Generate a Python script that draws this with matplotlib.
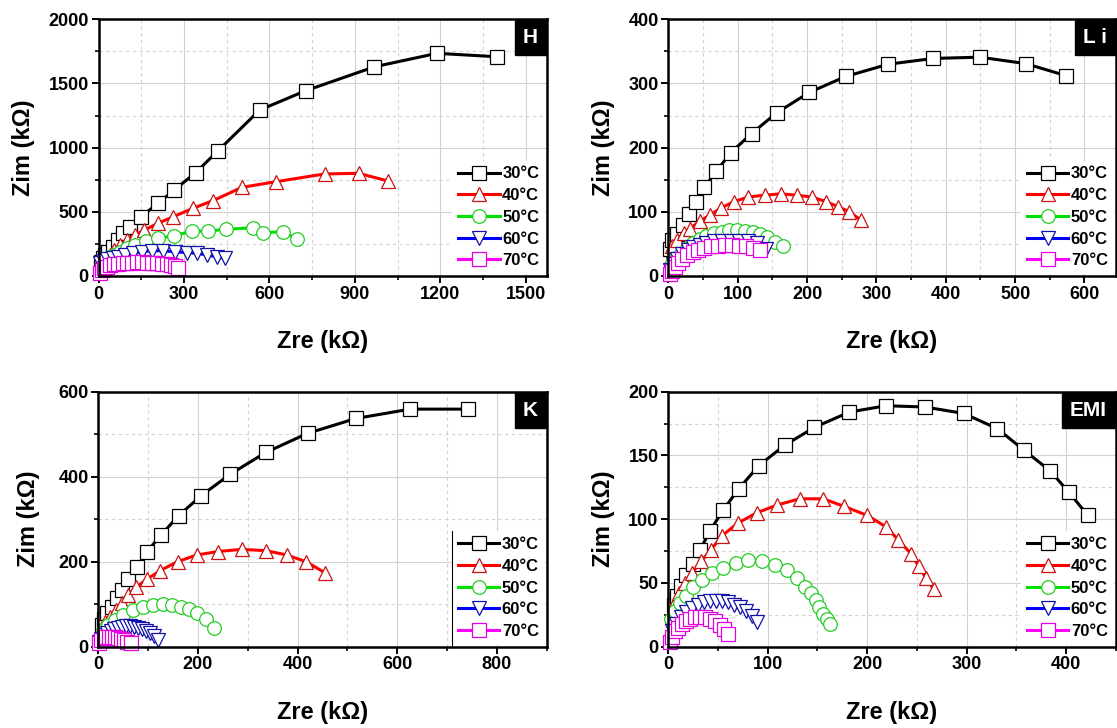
import matplotlib
matplotlib.use("Agg")
import matplotlib.pyplot as plt
from matplotlib.ticker import MultipleLocator

plt.rcParams['font.family'] = ['Liberation Sans', 'DejaVu Sans']
plt.rcParams['font.weight'] = 'bold'

# ---------------------------------------------------------------- data
temps = ['30°C', '40°C', '50°C', '60°C', '70°C']

# H
H_30_re = [8, 15, 23, 35, 52, 70, 87, 111, 149, 209, 266, 341, 419, 566, 727, 969, 1189, 1400]
H_30_im = [110, 138, 164, 189, 228, 280, 333, 384, 462, 566, 670, 805, 974, 1293, 1443, 1630, 1735, 1708]
H_40_re = [8, 15, 25, 40, 55, 75, 100, 128, 161, 208, 263, 331, 402, 504, 624, 794, 914, 1017]
H_40_im = [95, 110, 135, 165, 200, 240, 280, 319, 358, 410, 462, 527, 587, 691, 735, 795, 800, 740]
H_50_re = [12, 25, 38, 55, 75, 99, 128, 167, 210, 266, 328, 386, 448, 541, 578, 648, 697]
H_50_im = [105, 125, 145, 165, 190, 216, 241, 275, 293, 314, 350, 350, 364, 376, 337, 345, 288]
H_60_re = [5, 15, 30, 50, 70, 94, 121, 152, 187, 225, 269, 310, 345, 380, 415, 445]
H_60_im = [105, 120, 130, 140, 150, 164, 177, 189, 197, 197, 189, 182, 177, 164, 150, 138]
H_70_re = [5, 12, 20, 30, 42, 55, 70, 85, 100, 118, 135, 152, 170, 188, 205, 222, 240, 255, 268, 278]
H_70_im = [25, 45, 60, 72, 82, 90, 96, 100, 103, 105, 106, 106, 105, 103, 100, 97, 93, 86, 76, 62]

# Li
Li_30_re = [2, 6, 12, 21, 30, 40, 52, 69, 90, 120, 156, 203, 256, 317, 382, 449, 515, 574]
Li_30_im = [42, 56, 66, 80, 96, 116, 138, 163, 192, 222, 254, 286, 311, 330, 339, 341, 331, 312]
Li_40_re = [5, 12, 22, 31, 45, 60, 76, 95, 115, 139, 162, 185, 207, 227, 245, 261, 278]
Li_40_im = [46, 56, 67, 74, 85, 95, 106, 116, 123, 126, 128, 126, 123, 116, 108, 100, 87]
Li_50_re = [6, 11, 18, 27, 35, 45, 55, 66, 77, 88, 99, 111, 122, 132, 143, 154, 165]
Li_50_im = [20, 28, 35, 43, 51, 58, 63, 67, 69, 71, 71, 70, 68, 65, 60, 53, 46]
Li_60_re = [3, 7, 13, 20, 28, 36, 45, 55, 66, 78, 90, 102, 115, 128, 141]
Li_60_im = [10, 18, 27, 34, 40, 45, 49, 52, 54, 55, 55, 55, 54, 52, 42]
Li_70_re = [2, 5, 9, 14, 20, 27, 35, 43, 52, 62, 72, 82, 92, 102, 112, 122, 132]
Li_70_im = [3, 8, 14, 20, 26, 32, 37, 41, 44, 46, 47, 48, 48, 47, 46, 44, 40]

# K
K_30_re = [7, 11, 18, 27, 37, 47, 60, 77, 98, 126, 161, 206, 265, 336, 420, 517, 626, 743]
K_30_im = [51, 65, 79, 94, 114, 133, 159, 187, 224, 263, 308, 355, 406, 457, 502, 537, 559, 559]
K_40_re = [7, 14, 24, 36, 47, 60, 76, 98, 124, 159, 198, 241, 288, 336, 378, 417, 455]
K_40_im = [43, 57, 71, 86, 102, 122, 140, 159, 179, 200, 216, 224, 229, 226, 216, 200, 174]
K_50_re = [10, 20, 34, 50, 69, 89, 109, 129, 147, 166, 183, 199, 216, 232]
K_50_im = [39, 51, 63, 75, 86, 94, 98, 100, 98, 94, 88, 79, 65, 43]
K_60_re = [2, 6, 12, 18, 25, 32, 40, 48, 56, 64, 72, 80, 88, 96, 104, 112, 120]
K_60_im = [10, 19, 27, 33, 38, 42, 45, 47, 48, 48, 47, 45, 42, 38, 32, 25, 16]
K_70_re = [2, 6, 11, 16, 22, 28, 34, 40, 46, 52, 58, 65]
K_70_im = [8, 15, 20, 23, 24, 24, 23, 21, 18, 15, 11, 8]

# EMI
EMI_30_re = [6, 9, 13, 18, 25, 32, 42, 55, 71, 91, 117, 147, 182, 219, 258, 297, 331, 358, 384, 403, 422]
EMI_30_im = [33, 40, 48, 56, 65, 76, 91, 107, 124, 142, 158, 172, 184, 189, 188, 183, 171, 154, 138, 121, 103]
EMI_40_re = [7, 11, 17, 24, 33, 43, 54, 70, 89, 109, 132, 156, 177, 200, 219, 231, 244, 252, 259, 267]
EMI_40_im = [35, 42, 50, 58, 67, 76, 87, 97, 105, 111, 116, 116, 110, 103, 94, 84, 73, 63, 54, 45]
EMI_50_re = [3, 7, 12, 18, 25, 34, 44, 55, 68, 80, 94, 107, 119, 129, 137, 144, 149, 152, 156, 160, 163]
EMI_50_im = [22, 28, 34, 40, 47, 52, 58, 62, 66, 68, 67, 64, 60, 54, 47, 42, 37, 31, 26, 22, 18]
EMI_60_re = [4, 8, 13, 18, 24, 30, 36, 42, 48, 54, 60, 66, 72, 78, 84, 89]
EMI_60_im = [12, 18, 23, 27, 30, 33, 35, 36, 36, 36, 35, 33, 31, 28, 24, 19]
EMI_70_re = [2, 4, 7, 10, 14, 18, 22, 27, 32, 37, 42, 47, 52, 56, 60]
EMI_70_im = [4, 8, 12, 15, 18, 20, 22, 23, 23, 23, 22, 20, 17, 14, 10]

# ---------------------------------------------------------------- styles
line_colors = ['#000000', '#ff0000', '#00e000', '#0000ff', '#ff00ff']
edge_colors = ['#000000', '#cc1111', '#22cc22', '#1111aa', '#e000e0']
markers = ['s', '^', 'o', 'v', 's']

W, H = 1117, 728
fig = plt.figure(figsize=(W / 100, H / 100), dpi=100)


def px_rect(l, t, r, b):
    return [l / W, 1 - b / H, (r - l) / W, (b - t) / H]


panels = [
    dict(tag='H', rect=px_rect(98.5, 19.3, 547, 276), xmax=1575, ymax=2000,
         xmaj=300, xmin=150, ymaj=500, ymin=250, ylab_x=-0.142, xlab_y=-0.212,
         series=[(H_30_re, H_30_im), (H_40_re, H_40_im), (H_50_re, H_50_im),
                 (H_60_re, H_60_im), (H_70_re, H_70_im)]),
    dict(tag='L i', rect=px_rect(668.3, 19.3, 1115.7, 276), xmax=645, ymax=400,
         xmaj=100, xmin=50, ymaj=100, ymin=50, ylab_x=-0.119, xlab_y=-0.212,
         series=[(Li_30_re, Li_30_im), (Li_40_re, Li_40_im), (Li_50_re, Li_50_im),
                 (Li_60_re, Li_60_im), (Li_70_re, Li_70_im)]),
    dict(tag='K', rect=px_rect(98.3, 391.7, 546.7, 646.7), xmax=900, ymax=600,
         xmaj=200, xmin=100, ymaj=200, ymin=100, ylab_x=-0.13, xlab_y=-0.211,
         series=[(K_30_re, K_30_im), (K_40_re, K_40_im), (K_50_re, K_50_im),
                 (K_60_re, K_60_im), (K_70_re, K_70_im)]),
    dict(tag='EMI', rect=px_rect(668.3, 391.7, 1115.7, 646.7), xmax=450, ymax=200,
         xmaj=100, xmin=50, ymaj=50, ymin=25, ylab_x=-0.119, xlab_y=-0.211,
         series=[(EMI_30_re, EMI_30_im), (EMI_40_re, EMI_40_im), (EMI_50_re, EMI_50_im),
                 (EMI_60_re, EMI_60_im), (EMI_70_re, EMI_70_im)]),
]

legends = {}
for p in panels:
    ax = fig.add_axes(p['rect'])
    for i, (re, im) in enumerate(p['series']):
        ax.plot(re, im, color=line_colors[i], lw=2.2, marker=markers[i],
                ms=9.8, mfc='white', mec=edge_colors[i], mew=0.9,
                label=temps[i], clip_on=False, zorder=2 + i * 0.1)
    ax.set_xlim(0, p['xmax'])
    ax.set_ylim(0, p['ymax'])
    ax.xaxis.set_major_locator(MultipleLocator(p['xmaj']))
    ax.xaxis.set_minor_locator(MultipleLocator(p['xmin']))
    ax.yaxis.set_major_locator(MultipleLocator(p['ymaj']))
    ax.yaxis.set_minor_locator(MultipleLocator(p['ymin']))
    ax.set_axisbelow(True)
    ax.grid(which='major', color='#d2d2d2', lw=0.8, ls='-')
    ax.grid(which='minor', color='#d2d2d2', lw=0.8, ls=(0, (3, 3)))
    for s in ax.spines.values():
        s.set_linewidth(1.8)
        s.set_zorder(4)
    ax.tick_params(which='major', direction='out', length=5, width=1.4,
                   labelsize=13, pad=2)
    ax.tick_params(which='minor', direction='out', length=3, width=1.2)
    ax.set_xlabel('Zre (kΩ)', fontsize=17, fontweight='bold')
    ax.set_ylabel('Zim (kΩ)', fontsize=17, fontweight='bold')
    ax.xaxis.set_label_coords(0.5, p['xlab_y'])
    ax.yaxis.set_label_coords(p['ylab_x'], 0.5)

    leg = ax.legend(loc='lower right', frameon=True, fancybox=False,
                    edgecolor='none', facecolor='white', framealpha=1,
                    borderaxespad=0.12, borderpad=0.35, handlelength=2.5,
                    handletextpad=0.15, labelspacing=0.4, numpoints=1,
                    prop={'weight': 'bold', 'size': 12})
    legends[p['tag']] = (ax, leg)

    ax.annotate(p['tag'], xy=(1, 1), xycoords='axes fraction',
                xytext=(-6.5, -6.5), textcoords='offset points',
                ha='right', va='top', color='white', fontsize=15,
                fontweight='bold', zorder=6,
                bbox=dict(boxstyle='square,pad=0.38', fc='black', ec='black'))

# thin left border on the K legend
fig.canvas.draw()
ax_k, leg_k = legends['K']
bb = leg_k.get_window_extent().transformed(ax_k.transAxes.inverted())
ax_k.plot([bb.x0, bb.x0], [0, bb.y1], transform=ax_k.transAxes,
          color='black', lw=0.8, zorder=6, clip_on=False)

fig.savefig('out.png', dpi=100)
